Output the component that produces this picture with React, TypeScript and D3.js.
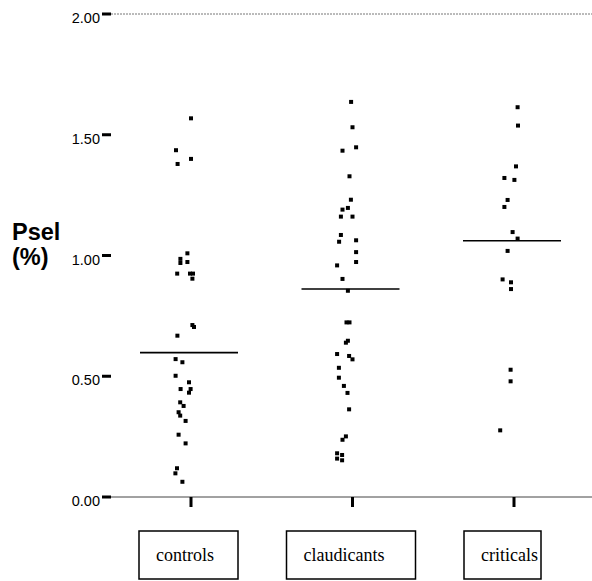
// PselChart.tsx
import React from "react";
import * as d3 from "d3";

const categories = ["controls", "claudicants", "criticals"];

// Psel (%) per subject
const controlsValues = [
  1.568, 1.436, 1.4, 1.379, 1.009, 0.986, 0.969, 0.973, 0.925, 0.925, 0.925,
  0.904, 0.712, 0.704, 0.668, 0.571, 0.558, 0.502, 0.475, 0.447, 0.447, 0.432,
  0.392, 0.377, 0.351, 0.337, 0.315, 0.258, 0.222, 0.119, 0.098, 0.063,
];
const claudicantsValues = [
  1.636, 1.531, 1.448, 1.434, 1.328, 1.231, 1.197, 1.19, 1.161, 1.161, 1.085,
  1.057, 1.063, 1.014, 0.959, 0.973, 0.903, 0.854, 0.723, 0.723, 0.647, 0.639,
  0.592, 0.584, 0.57, 0.535, 0.494, 0.46, 0.431, 0.363, 0.251, 0.237, 0.181,
  0.174, 0.159, 0.152,
];
const criticalsValues = [
  1.614, 1.538, 1.369, 1.321, 1.313, 1.23, 1.201, 1.097, 1.07, 1.019, 0.901,
  0.889, 0.861, 0.527, 0.479, 0.276,
];

// horizontal jitter of each dot, in units of the jitter scale
const controlsJitter = [
  0, -0.75, 0, -0.67, -0.18, -0.53, -0.53, -0.18, -0.69, -0.05, 0.1, 0.07, 0.07,
  0.15, -0.68, -0.77, -0.43, -0.77, -0.1, -0.52, -0.02, -0.1, -0.54, -0.37,
  -0.62, -0.54, -0.27, -0.62, -0.27, -0.7, -0.78, -0.43,
];
const claudicantsJitter = [
  -0.07, 0, 0.18, -0.5, -0.15, -0.08, -0.23, -0.5, -0.58, 0, -0.58, -0.67, 0.18,
  0.18, -0.77, 0.18, -0.5, -0.23, -0.3, -0.15, -0.23, -0.33, -0.77, -0.17, 0,
  -0.68, -0.68, -0.43, -0.25, -0.17, -0.33, -0.5, -0.77, -0.52, -0.77, -0.52,
];
const criticalsJitter = [
  0.18, 0.2, 0.1, -0.48, 0.02, -0.32, -0.48, -0.07, 0.18, -0.32, -0.57, -0.15,
  -0.15, -0.17, -0.17, -0.69,
];

const groupLines = [0.598, 0.861, 1.061];

const yTicks = [0, 0.5, 1, 1.5, 2];

const seriesValues = [controlsValues, claudicantsValues, criticalsValues];
const seriesJitter = [controlsJitter, claudicantsJitter, criticalsJitter];

// label box extents around each category tick (left offset, right offset)
const boxSpec = [
  [-52, 47],
  [-66, 63],
  [-50, 27],
];

const W = 592;
const H = 581;

const App = () => {
  const y = d3.scaleLinear().domain([0, 2]).range([497, 14]);
  const x = d3.scalePoint().domain(categories).range([191, 514]);
  const jitter = d3.scaleLinear().domain([-1, 1]).range([-20, 20]);

  const sans = '"Liberation Sans", Arial, Helvetica, sans-serif';
  const serif = '"Liberation Serif", "Times New Roman", "DejaVu Serif", serif';
  const axisLeft = 111;

  return (
    <svg
      width={W}
      height={H}
      style={{ position: "absolute", left: 0, top: 0, background: "#fff" }}
    >
      {/* reference lines at 0 and 2 */}
      <line
        x1={axisLeft}
        x2={W}
        y1={y(2)}
        y2={y(2)}
        stroke="#777"
        strokeWidth={1}
        strokeDasharray="2,1"
      />
      <line
        x1={axisLeft}
        x2={W}
        y1={y(0)}
        y2={y(0)}
        stroke="#444"
        strokeWidth={1}
      />

      {/* y axis ticks */}
      {yTicks.map((t) => (
        <g key={t}>
          <rect x={102} y={y(t) - 1.5} width={9} height={3} fill="#000" />
          <text
            x={100}
            y={y(t) + 9}
            textAnchor="end"
            style={{ fontFamily: sans, fontSize: "14.5px" }}
          >
            {d3.format(".2f")(t)}
          </text>
        </g>
      ))}

      {/* y axis title */}
      <text style={{ fontFamily: sans, fontWeight: "bold", fontSize: "23.5px" }}>
        <tspan x={12} y={240}>
          Psel
        </tspan>
        <tspan x={12} y={265}>
          (%)
        </tspan>
      </text>

      {categories.map((c, i) => {
        const cx = x(c) as number;
        const [l, r] = boxSpec[i];
        return (
          <g key={c}>
            <rect x={cx - 1.5} y={y(0)} width={3} height={10} fill="#000" />
            {seriesValues[i].map((v, j) => (
              <rect
                key={j}
                x={cx + jitter(seriesJitter[i][j]) - 2}
                y={y(v) - 2}
                width={4}
                height={4}
                fill="#000"
              />
            ))}
            <line
              x1={cx - 51}
              x2={cx + 47}
              y1={y(groupLines[i])}
              y2={y(groupLines[i])}
              stroke="#000"
              strokeWidth={1.6}
            />
            <rect
              x={cx + l}
              y={531}
              width={r - l}
              height={48}
              fill="none"
              stroke="#000"
              strokeWidth={1.5}
            />
            <text
              x={cx + l + 17}
              y={561}
              style={{ fontFamily: serif, fontSize: "18px" }}
            >
              {c}
            </text>
          </g>
        );
      })}
    </svg>
  );
};

export default App;
